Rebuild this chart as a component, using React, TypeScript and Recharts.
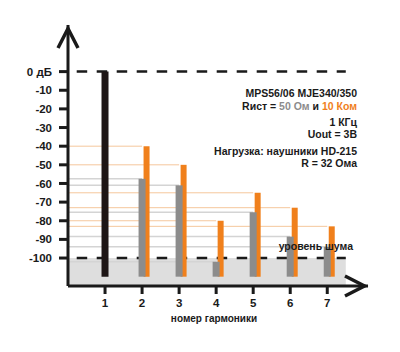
import React from "react";
import {
  ComposedChart,
  Bar,
  Cell,
  XAxis,
  YAxis,
  ReferenceLine,
  ReferenceArea,
} from "recharts";

// harmonic numbers on the x axis
const HARMONICS = [1, 2, 3, 4, 5, 6, 7];
// levels in dB, source resistance 50 Ohm (first one is the fundamental)
const LEVEL_50_OHM = [0, -57.5, -61, -102, -75.5, -88.5, -94];
// levels in dB, source resistance 10 kOhm
const LEVEL_10_KOHM = [null, -40, -50, -80, -65, -73, -83];
const DB_TICKS = [0, -10, -20, -30, -40, -50, -60, -70, -80, -90, -100];

const NOISE_DB = -100;
const FLOOR_DB = -110;
const NOISE_END = 7.5;
const X_DOMAIN = [0, 8.1];
const Y_DOMAIN = [-115, 25];

const INFO_LINES = [
  "MPS56/06 MJE340/350",
  "Rист = ",
  "1 КГц",
  "Uout = 3В",
  "Нагрузка: наушники HD-215",
  "R = 32 Ома",
];

const INK = "#1a1a1a";
const GRAY = "#8c8c8c";
const ORANGE = "#f0801c";
const FONT = '"Liberation Sans", Arial, sans-serif';

const rows = HARMONICS.map((h, i) => ({
  h,
  r50: LEVEL_50_OHM[i],
  r10k: LEVEL_10_KOHM[i],
}));

const infoTops = [87, 100, 116, 128, 145, 157];

export default function App() {
  const tickStyle = { fill: INK, fontSize: 11.5, fontWeight: "bold", fontFamily: FONT };
  return (
    <div
      style={{
        position: "absolute",
        left: 0,
        top: 0,
        width: 400,
        height: 352,
        background: "#fff",
        fontFamily: FONT,
      }}
    >
      <svg width={0} height={0} style={{ position: "absolute" }}>
        <defs>
          <marker
            id="axisArrow"
            markerUnits="userSpaceOnUse"
            markerWidth={30}
            markerHeight={30}
            refX={0}
            refY={0}
            orient="auto-start-reverse"
            overflow="visible"
          >
            <path d="M -23 -10 L -3.5 0 L -23 10" fill="none" stroke={INK} strokeWidth={3.5} />
          </marker>
        </defs>
      </svg>
      <ComposedChart
        width={400}
        height={352}
        data={rows}
        margin={{ top: 25, right: 32, left: 8, bottom: 26 }}
      >
        <XAxis
          type="number"
          dataKey="h"
          domain={X_DOMAIN}
          ticks={HARMONICS}
          interval={0}
          height={40}
          tickSize={8}
          tickMargin={5}
          tick={tickStyle}
          tickLine={{ stroke: INK, strokeWidth: 3 }}
          axisLine={{ stroke: INK, strokeWidth: 3, markerEnd: "url(#axisArrow)" }}
          label={{
            value: "номер гармоники",
            position: "insideBottom",
            offset: 4,
            dx: -4,
            fill: INK,
            fontSize: 10,
            fontWeight: "bold",
            fontFamily: FONT,
          }}
        />
        <XAxis xAxisId="g" type="number" dataKey="h" domain={X_DOMAIN} hide />
        <XAxis
          xAxisId="o"
          type="number"
          dataKey="h"
          domain={X_DOMAIN}
          padding={{ left: 4, right: -4 }}
          hide
        />
        <YAxis
          type="number"
          domain={Y_DOMAIN}
          ticks={DB_TICKS}
          interval={0}
          width={60}
          tickSize={9}
          tickMargin={7}
          tick={tickStyle}
          tickFormatter={(v) => (v === 0 ? "0 дБ" : String(v))}
          tickLine={{ stroke: INK, strokeWidth: 3 }}
          axisLine={{ stroke: INK, strokeWidth: 3, markerStart: "url(#axisArrow)" }}
        />
        <ReferenceArea
          x1={X_DOMAIN[0]}
          x2={NOISE_END}
          y1={Y_DOMAIN[0]}
          y2={NOISE_DB}
          fill="#dedede"
          fillOpacity={1}
          stroke="none"
          zIndex={50}
        />
        {rows.slice(1).map((r) => (
          <ReferenceLine
            key={"g" + r.h}
            segment={[
              { x: X_DOMAIN[0], y: r.r50 },
              { x: r.h, y: r.r50 },
            ]}
            stroke="#d4d4d4"
            strokeWidth={1.5}
            zIndex={100}
          />
        ))}
        {rows.slice(1).map((r) => (
          <ReferenceLine
            key={"o" + r.h}
            segment={[
              { x: X_DOMAIN[0], y: r.r10k },
              { x: r.h, y: r.r10k },
            ]}
            stroke="#f5c79c"
            strokeWidth={1}
            zIndex={100}
          />
        ))}
        <ReferenceLine
          segment={[
            { x: X_DOMAIN[0], y: 0 },
            { x: NOISE_END, y: 0 },
          ]}
          stroke={INK}
          strokeWidth={2.5}
          strokeDasharray="10.5 9.5"
          strokeDashoffset={11.3}
          zIndex={100}
        />
        <ReferenceLine
          segment={[
            { x: X_DOMAIN[0], y: NOISE_DB },
            { x: NOISE_END, y: NOISE_DB },
          ]}
          stroke={INK}
          strokeWidth={2.5}
          strokeDasharray="10.5 9.5"
          strokeDashoffset={11.3}
          zIndex={100}
        />
        <Bar
          xAxisId="o"
          dataKey={(d) => (d.r10k == null ? null : [FLOOR_DB, d.r10k])}
          fill={ORANGE}
          barSize={6}
          isAnimationActive={false}
          zIndex={300}
        />
        <Bar
          xAxisId="g"
          dataKey={(d) => (d.r50 == null ? null : [FLOOR_DB, d.r50])}
          fill={GRAY}
          barSize={7}
          isAnimationActive={false}
          zIndex={310}
        >
          {rows.map((r, i) => (
            <Cell key={r.h} fill={i === 0 ? "#1e1616" : GRAY} />
          ))}
        </Bar>
      </ComposedChart>

      {INFO_LINES.map((line, i) => (
        <div
          key={i}
          style={{
            position: "absolute",
            right: 43,
            top: infoTops[i],
            fontSize: 10.5,
            fontWeight: "bold",
            lineHeight: "12px",
            color: INK,
            whiteSpace: "nowrap",
          }}
        >
          {line}
          {i === 1 && (
            <>
              <span style={{ color: GRAY }}>50 Ом</span> и{" "}
              <span style={{ color: ORANGE }}>10 Ком</span>
            </>
          )}
        </div>
      ))}
      <div
        style={{
          position: "absolute",
          right: 47,
          top: 240,
          fontSize: 10.5,
          fontWeight: "bold",
          lineHeight: "12px",
          color: INK,
          whiteSpace: "nowrap",
        }}
      >
        уровень шума
      </div>
    </div>
  );
}
